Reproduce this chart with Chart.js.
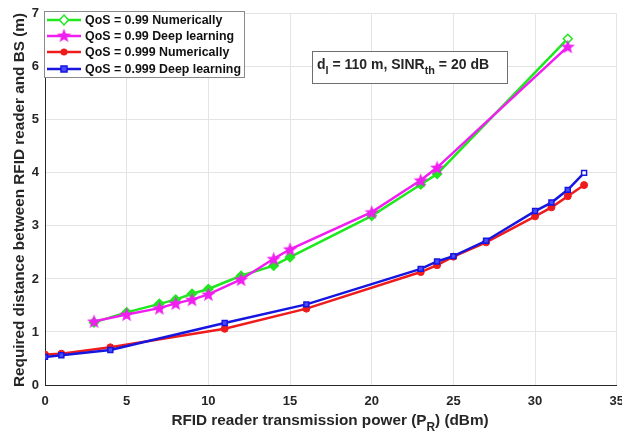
<!DOCTYPE html>
<html>
<head>
<meta charset="utf-8">
<style>
  html, body { margin: 0; padding: 0; background: #fff; overflow: hidden; }
  canvas { display: block; }
</style>
<script src="https://cdn.jsdelivr.net/npm/chart.js@4.4.1/dist/chart.umd.min.js"></script>
</head>
<body>
<canvas id="c" width="633" height="434"></canvas>
<script>
// Transmission power (dBm) and required reader-to-BS distance (m)
const qos99X    = [3, 5, 7, 8, 9, 10, 12, 14, 15, 20, 23, 24, 32];
const qos99Num  = [1.18, 1.37, 1.53, 1.61, 1.72, 1.81, 2.06, 2.25, 2.41, 3.19, 3.78, 3.98, 6.53];
const qos99DL   = [1.20, 1.33, 1.45, 1.54, 1.61, 1.71, 1.99, 2.38, 2.56, 3.26, 3.86, 4.10, 6.38];
const qos999X   = [0, 1, 4, 11, 16, 23, 24, 25, 27, 30, 31, 32, 33];
const qos999Num = [0.575, 0.59, 0.71, 1.06, 1.44, 2.13, 2.26, 2.42, 2.69, 3.18, 3.35, 3.56, 3.77];
const qos999DL  = [0.53, 0.56, 0.66, 1.17, 1.52, 2.19, 2.33, 2.43, 2.72, 3.28, 3.44, 3.68, 4.00];

const seriesNames = [
  'QoS = 0.99 Numerically',
  'QoS = 0.99 Deep learning',
  'QoS = 0.999 Numerically',
  'QoS = 0.999 Deep learning'
];
const xTicks = [0, 5, 10, 15, 20, 25, 30, 35];
const yTicks = [0, 1, 2, 3, 4, 5, 6, 7];

const FONT = '"Liberation Sans", Arial, sans-serif';
const TXT = '#262626';
const GREEN = '#1fe81f', MAGENTA = '#f01ef0', RED = '#ee1c1c', BLUE = '#1616e0';

// filled five-pointed star used as a point marker
function pentagram(color, size) {
  const c = document.createElement('canvas');
  c.width = c.height = size;
  const g = c.getContext('2d');
  const cx = size / 2, cy = size / 2 + 0.6, R = size / 2, r = R * 0.42;
  g.beginPath();
  for (let i = 0; i < 10; i++) {
    const rad = i % 2 === 0 ? R : r;
    const a = -Math.PI / 2 + i * Math.PI / 5;
    const px = cx + rad * Math.cos(a), py = cy + rad * Math.sin(a);
    i === 0 ? g.moveTo(px, py) : g.lineTo(px, py);
  }
  g.closePath();
  g.fillStyle = color;
  g.fill();
  return c;
}
const starImg = pentagram(MAGENTA, 15);

const pts = (xs, ys) => xs.map((x, i) => ({ x: x, y: ys[i] }));
const lastHollow = (n, fill) => Array.from({ length: n }, (_, i) => i === n - 1 ? '#ffffff' : fill);

const datasets = [
  { label: seriesNames[0], data: pts(qos99X, qos99Num), borderColor: GREEN,
    pointStyle: 'rectRot', pointRadius: 4.5, pointBorderWidth: 1.5,
    pointBorderColor: GREEN, pointBackgroundColor: lastHollow(qos99X.length, GREEN), order: 4 },
  { label: seriesNames[1], data: pts(qos99X, qos99DL), borderColor: MAGENTA,
    pointStyle: starImg, pointRadius: 7, order: 3 },
  { label: seriesNames[2], data: pts(qos999X, qos999Num), borderColor: RED,
    pointStyle: 'circle', pointRadius: 3.5, pointBorderWidth: 1,
    pointBorderColor: RED, pointBackgroundColor: RED, order: 2 },
  { label: seriesNames[3], data: pts(qos999X, qos999DL), borderColor: BLUE,
    pointStyle: 'rect', pointRadius: 3.5, pointBorderWidth: 1.5,
    pointBorderColor: BLUE, pointBackgroundColor: lastHollow(qos999X.length, '#4a4aff'), order: 1 }
].map(d => Object.assign({ borderWidth: 2.5, tension: 0, fill: false }, d));

// text with a lowered subscript run: parts = [[text, isSub], ...]
function richText(g, parts, x, y, size, align) {
  const subSize = size * 0.78;
  const widths = parts.map(([t, sub]) => {
    g.font = 'bold ' + (sub ? subSize : size) + 'px ' + FONT;
    return g.measureText(t).width;
  });
  const total = widths.reduce((a, b) => a + b, 0);
  let cx = align === 'center' ? x - total / 2 : x;
  parts.forEach(([t, sub], i) => {
    g.font = 'bold ' + (sub ? subSize : size) + 'px ' + FONT;
    g.fillText(t, cx, sub ? y + size * 0.38 : y);
    cx += widths[i];
  });
}

const decorations = {
  id: 'decorations',
  afterDraw(chart) {
    const g = chart.ctx;
    g.save();
    g.fillStyle = TXT;
    g.textBaseline = 'alphabetic';
    g.textAlign = 'left';

    // x axis title
    richText(g, [['RFID reader transmission power (P', false], ['R', true], [') (dBm)', false]],
             330, 425, 15.3, 'center');

    // y axis title
    g.save();
    g.translate(24, 200);
    g.rotate(-Math.PI / 2);
    g.textAlign = 'center';
    g.font = 'bold 15.3px ' + FONT;
    g.fillText('Required distance between RFID reader and BS (m)', 0, 0);
    g.restore();

    // parameter box
    g.fillStyle = '#ffffff';
    g.fillRect(312, 51, 195, 32);
    g.strokeStyle = '#6e6e6e';
    g.lineWidth = 1;
    g.strokeRect(312.5, 51.5, 195, 32);
    g.fillStyle = TXT;
    richText(g, [['d', false], ['l', true], [' = 110 m, SINR', false], ['th', true], [' = 20 dB', false]],
             317, 69, 14, 'left');

    // legend
    const lx = 44, ly = 11, lw = 200, lh = 66;
    g.fillStyle = '#ffffff';
    g.fillRect(lx, ly, lw, lh);
    g.strokeStyle = '#8a8a8a';
    g.strokeRect(lx + 0.5, ly + 0.5, lw, lh);
    const rows = [20, 36, 52, 69];
    chart.data.datasets.forEach((ds, i) => {
      const yy = rows[i];
      g.strokeStyle = ds.borderColor;
      g.lineWidth = 2.5;
      g.beginPath();
      g.moveTo(47, yy);
      g.lineTo(81, yy);
      g.stroke();
      const mx = 64;
      g.fillStyle = ds.borderColor;
      g.strokeStyle = ds.borderColor;
      g.lineWidth = 1.5;
      if (i === 0) {
        g.beginPath();
        g.moveTo(mx, yy - 5); g.lineTo(mx + 4.5, yy); g.lineTo(mx, yy + 5); g.lineTo(mx - 4.5, yy);
        g.closePath(); g.fillStyle = '#ffffff'; g.fill(); g.stroke();
      } else if (i === 1) {
        g.drawImage(starImg, mx - 7.5, yy - 8);
      } else if (i === 2) {
        g.beginPath(); g.arc(mx, yy, 3.5, 0, Math.PI * 2); g.fill();
      } else {
        g.fillStyle = '#4a4aff';
        g.fillRect(mx - 3, yy - 3, 6, 6);
        g.strokeRect(mx - 3, yy - 3, 6, 6);
      }
      g.fillStyle = '#111111';
      g.font = 'bold 12.4px ' + FONT;
      g.textBaseline = 'middle';
      g.fillText(ds.label, 85, yy + 0.5);
      g.textBaseline = 'alphabetic';
    });
    g.restore();
  }
};

new Chart(document.getElementById('c'), {
  type: 'line',
  data: { datasets: datasets },
  options: {
    responsive: false,
    animation: false,
    layout: { padding: { top: 11, right: 0, left: 0, bottom: 0 } },
    plugins: { legend: { display: false }, tooltip: { enabled: false } },
    scales: {
      x: {
        type: 'linear', min: 0, max: 35,
        afterBuildTicks: s => { s.ticks = xTicks.map(v => ({ value: v })); },
        afterFit: s => { s.height = 49; },
        grid: { color: '#e4e4e4', lineWidth: 1, drawTicks: false },
        border: { color: '#262626', width: 1 },
        ticks: { padding: 9, color: TXT, font: { family: FONT, size: 13, weight: 'bold' }, maxRotation: 0 }
      },
      y: {
        type: 'linear', min: 0, max: 7,
        afterBuildTicks: s => { s.ticks = yTicks.map(v => ({ value: v })); },
        afterFit: s => { s.width = 45; },
        grid: { color: '#e4e4e4', lineWidth: 1, drawTicks: false },
        border: { color: '#262626', width: 1 },
        ticks: { padding: 6, color: TXT, font: { family: FONT, size: 13, weight: 'bold' } }
      }
    }
  },
  plugins: [decorations]
});
</script>
</body>
</html>
